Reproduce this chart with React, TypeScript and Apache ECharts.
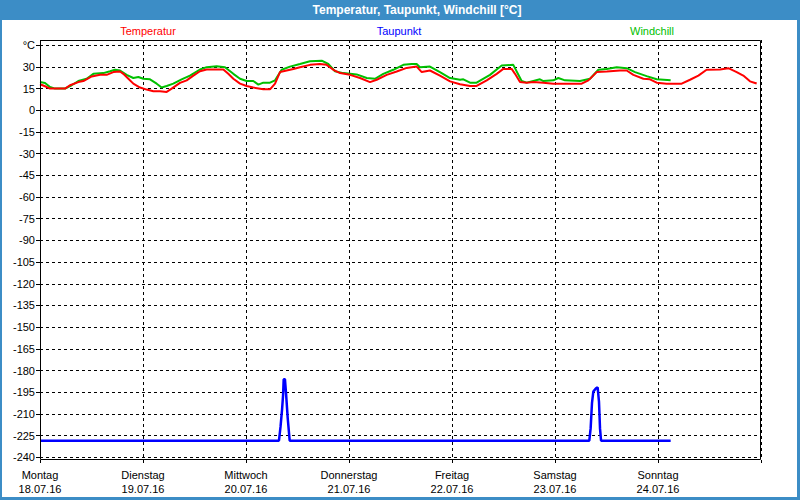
import React, { useEffect, useRef } from "react";
import * as echarts from "echarts";

const dayNames = ["Montag", "Dienstag", "Mittwoch", "Donnerstag", "Freitag", "Samstag", "Sonntag"];
const dayDates = ["18.07.16", "19.07.16", "20.07.16", "21.07.16", "22.07.16", "23.07.16", "24.07.16"];
const seriesNames = ["Temperatur", "Taupunkt", "Windchill"];

// x in days since Montag 18.07.16 00:00
const tempDays = [0, 0.049, 0.097, 0.162, 0.243, 0.291, 0.372, 0.421, 0.502, 0.583, 0.647, 0.712, 0.777, 0.809, 0.858, 0.906, 0.971, 1.036, 1.1, 1.165, 1.23, 1.278, 1.359, 1.424, 1.489, 1.553, 1.618, 1.715, 1.78, 1.828, 1.877, 1.942, 2.006, 2.071, 2.168, 2.233, 2.282, 2.33, 2.395, 2.46, 2.524, 2.621, 2.718, 2.783, 2.848, 2.913, 3.01, 3.107, 3.204, 3.269, 3.366, 3.463, 3.56, 3.657, 3.706, 3.786, 3.883, 3.981, 4.078, 4.175, 4.239, 4.337, 4.434, 4.498, 4.579, 4.612, 4.66, 4.725, 4.79, 4.887, 4.984, 5.146, 5.259, 5.324, 5.405, 5.502, 5.631, 5.696, 5.761, 5.858, 5.922, 5.987, 6.084, 6.23, 6.311, 6.392, 6.472, 6.602, 6.683, 6.764, 6.828, 6.893, 6.942, 6.958];
const tempValues = [18, 16.6, 15, 15, 15, 17.3, 19.5, 20.2, 23.4, 24.5, 24.5, 26.4, 26.8, 25.2, 21.8, 18.4, 15.7, 14.3, 13.2, 13.2, 12.7, 15, 18.9, 20.7, 24, 27, 28.2, 28.2, 28.2, 25.2, 21.8, 18.4, 16.8, 15.7, 14.5, 14.5, 18.4, 26.4, 27.5, 28.6, 29.8, 31.4, 32, 31.4, 28, 25.7, 24.5, 22.3, 19.5, 21.1, 24.5, 26.8, 29.3, 30.2, 26.4, 27.5, 24, 20, 18, 16.8, 16.8, 20.7, 25.2, 28.6, 28.6, 25.2, 19.5, 19.1, 19.5, 19.1, 18.4, 18.4, 18.4, 20.7, 26.4, 26.8, 27.5, 27.5, 24.5, 21.8, 21.4, 19.1, 18.4, 18.4, 21.1, 24, 28, 28.2, 29.1, 26.4, 24, 20, 18.9, 18.5];

const chillDays = [0, 0.049, 0.097, 0.146, 0.243, 0.307, 0.372, 0.453, 0.518, 0.615, 0.68, 0.728, 0.777, 0.841, 0.906, 0.955, 1.003, 1.068, 1.133, 1.181, 1.23, 1.294, 1.375, 1.456, 1.553, 1.618, 1.715, 1.796, 1.877, 1.942, 2.006, 2.071, 2.12, 2.168, 2.233, 2.282, 2.346, 2.427, 2.524, 2.621, 2.735, 2.799, 2.864, 2.945, 3.074, 3.172, 3.252, 3.333, 3.43, 3.528, 3.608, 3.657, 3.689, 3.786, 3.883, 3.981, 4.078, 4.11, 4.175, 4.239, 4.369, 4.482, 4.595, 4.676, 4.725, 4.854, 4.887, 4.984, 5.032, 5.097, 5.243, 5.34, 5.421, 5.502, 5.599, 5.696, 5.777, 5.89, 5.987, 6.123];
const chillValues = [19.5, 18.9, 16.1, 15, 15, 17.3, 20.2, 21.8, 25.2, 25.7, 27, 28, 27.5, 24.5, 22.3, 23, 21.8, 21.4, 18.4, 15.7, 16.8, 18.4, 21.4, 24, 28.2, 29.8, 30.5, 29.8, 25.2, 21.8, 20.2, 20.2, 17.7, 19.1, 19.1, 20.7, 28, 30.2, 32, 33.9, 34.3, 32, 27, 25.7, 24.8, 22.3, 21.8, 25.2, 28, 31.4, 32, 32, 29.8, 30.2, 26.4, 22.3, 21.1, 21.4, 19.1, 19.1, 24.5, 30.9, 31.4, 20.2, 19.1, 21.4, 20.2, 20.7, 22.3, 20.7, 20.2, 21.8, 28, 28.6, 29.8, 29.1, 26.4, 23.6, 21.4, 20.7];

const dewDays = [0, 2.32, 2.335, 2.35, 2.36, 2.366, 2.378, 2.39, 2.405, 2.415, 2.424, 5.333, 5.346, 5.359, 5.372, 5.398, 5.414, 5.427, 5.437, 5.447, 6.123];
const dewValues = [-228.5, -228.5, -219, -207, -197, -186, -186, -197, -213, -221, -228.5, -228.5, -220, -202.6, -194.6, -192.3, -191.6, -201.5, -220, -228.5, -228.5];

const pair = (xs: number[], ys: number[]) => xs.map((x, i) => [x, ys[i]]);

const FONT = "'Liberation Sans', Arial, sans-serif";

export default function App() {
  const ref = useRef<HTMLDivElement>(null);
  useEffect(() => {
    if (!ref.current) return;
    const chart = echarts.init(ref.current, null, { renderer: "svg" });
    const dash = { color: "#000", width: 1, type: [3, 3] as number[] };
    chart.setOption({
      animation: false,
      backgroundColor: "#ffffff",
      textStyle: { fontFamily: FONT },
      grid: [
        { left: 40, right: 39, top: 45.2, bottom: 42.7, containLabel: false },
        { left: 40, right: 39, top: 40, bottom: 40, containLabel: false },
      ],
      xAxis: [
        {
          type: "value",
          gridIndex: 0,
          min: 0,
          max: 7,
          interval: 1,
          axisLine: { show: false },
          axisTick: { show: false },
          splitLine: { show: false },
          axisLabel: {
            margin: 11,
            color: "#000",
            fontSize: 11,
            fontFamily: FONT,
            lineHeight: 14,
            showMaxLabel: false,
            formatter: (v: number) => {
              const i = Math.round(v);
              return i < dayNames.length ? dayNames[i] + "\n" + dayDates[i] : "";
            },
          },
        },
        {
          type: "value",
          gridIndex: 1,
          min: 0,
          max: 7,
          interval: 1,
          axisLine: { show: false },
          axisTick: { show: true, length: 3, lineStyle: { color: "#000" } },
          splitLine: { show: true, lineStyle: dash },
          axisLabel: { show: false },
        },
      ],
      yAxis: [
        {
          type: "value",
          gridIndex: 0,
          min: -240,
          max: 45,
          interval: 15,
          axisLine: { show: true, lineStyle: { color: "#000" } },
          axisTick: { show: true, length: 4, lineStyle: { color: "#000" } },
          splitLine: { show: true, lineStyle: dash },
          axisLabel: {
            margin: 5,
            color: "#000",
            fontSize: 11,
            fontFamily: FONT,
            formatter: (v: number) => (v === 45 ? "°C" : String(v)),
          },
        },
        {
          type: "value",
          gridIndex: 1,
          min: 0,
          max: 1,
          show: false,
          splitLine: { show: false },
        },
      ],
      graphic: [
        { type: "rect", shape: { x: 0, y: 0, width: 800, height: 20 }, style: { fill: "#3c8dc6" }, silent: true },
        { type: "rect", shape: { x: 0, y: 0, width: 2, height: 500 }, style: { fill: "#3c8dc6" }, silent: true },
        { type: "rect", shape: { x: 797, y: 0, width: 3, height: 500 }, style: { fill: "#3c8dc6" }, silent: true },
        { type: "rect", shape: { x: 0, y: 497, width: 800, height: 3 }, style: { fill: "#3c8dc6" }, silent: true },
        {
          type: "text",
          x: 417,
          y: 10,
          style: { text: "Temperatur, Taupunkt, Windchill [°C]", fill: "#fff", font: "bold 12px " + FONT, textAlign: "center", textVerticalAlign: "middle" },
        },
        { type: "text", x: 148, y: 31, style: { text: seriesNames[0], fill: "#ff0000", font: "11px " + FONT, textAlign: "center", textVerticalAlign: "middle" } },
        { type: "text", x: 399, y: 31, style: { text: seriesNames[1], fill: "#0000ff", font: "11px " + FONT, textAlign: "center", textVerticalAlign: "middle" } },
        { type: "text", x: 652, y: 31, style: { text: seriesNames[2], fill: "#00c000", font: "11px " + FONT, textAlign: "center", textVerticalAlign: "middle" } },
        { type: "rect", z: 100, shape: { x: 40.5, y: 40.5, width: 720, height: 419 }, style: { fill: "none", stroke: "#000", lineWidth: 1 }, silent: true },
      ],
      series: [
        {
          name: seriesNames[0],
          type: "line",
          xAxisIndex: 0,
          yAxisIndex: 0,
          data: pair(tempDays, tempValues),
          showSymbol: false,
          lineStyle: { color: "#ff0000", width: 2 },
          itemStyle: { color: "#ff0000" },
          z: 3,
        },
        {
          name: seriesNames[2],
          type: "line",
          xAxisIndex: 0,
          yAxisIndex: 0,
          data: pair(chillDays, chillValues),
          showSymbol: false,
          lineStyle: { color: "#00c000", width: 2 },
          itemStyle: { color: "#00c000" },
          z: 2,
        },
        {
          name: seriesNames[1],
          type: "line",
          xAxisIndex: 0,
          yAxisIndex: 0,
          data: pair(dewDays, dewValues),
          showSymbol: false,
          lineStyle: { color: "#0000ff", width: 2.5 },
          itemStyle: { color: "#0000ff" },
          z: 4,
        },
      ],
    });
    return () => chart.dispose();
  }, []);
  return <div ref={ref} style={{ position: "fixed", left: 0, top: 0, width: 800, height: 500 }} />;
}
